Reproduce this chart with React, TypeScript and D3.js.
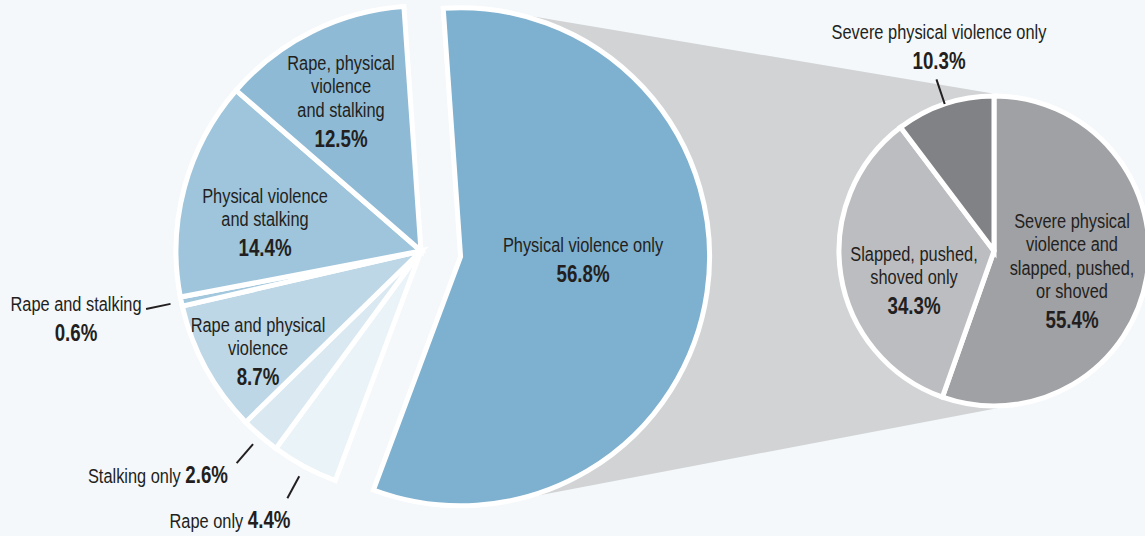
import React from "react";
import * as d3 from "d3";

const W = 1145;
const H = 536;
const BG = "#f4f8fb";
const INK = "#231f20";
const FONT = "'Liberation Sans', Arial, sans-serif";
// no narrow face installed: squeeze the regular one horizontally
const NARROW = 0.78;

// main pie (clockwise from the exploded slice)
const mainCategories = [
  "Physical violence only",
  "Rape only",
  "Stalking only",
  "Rape and physical violence",
  "Rape and stalking",
  "Physical violence and stalking",
  "Rape, physical violence and stalking",
];
const mainValues = [56.8, 4.4, 2.6, 8.7, 0.6, 14.4, 12.5];
const mainColors = [
  "#7eb0cf",
  "#eaf3f8",
  "#d9e8f1",
  "#bdd7e7",
  "#a3c8de",
  "#9ec5dc",
  "#8ebad5",
];

// breakdown of "Physical violence only"
const subCategories = [
  "Severe physical violence and slapped, pushed, or shoved",
  "Slapped, pushed, shoved only",
  "Severe physical violence only",
];
const subValues = [55.4, 34.3, 10.3];
const subColors = ["#a0a1a5", "#bcbdc0", "#808285"];

type Label = {
  lines?: string[];
  inline?: string;
  pct: string;
  x: number;
  y: number;
  anchor?: "start" | "middle" | "end";
  leader?: boolean;
};

// label layout, same order as the data
const mainLabels: Label[] = [
  { lines: ["Physical violence only"], pct: "56.8%", x: 583, y: 252 },
  { inline: "Rape only ", pct: "4.4%", x: 230, y: 528, leader: true },
  { inline: "Stalking only ", pct: "2.6%", x: 228, y: 483, anchor: "end", leader: true },
  { lines: ["Rape and physical", "violence"], pct: "8.7%", x: 258, y: 332 },
  { lines: ["Rape and stalking"], pct: "0.6%", x: 76, y: 311, leader: true },
  { lines: ["Physical violence", "and stalking"], pct: "14.4%", x: 265, y: 203 },
  { lines: ["Rape, physical", "violence", "and stalking"], pct: "12.5%", x: 341, y: 70 },
];
const subLabels: Label[] = [
  {
    lines: ["Severe physical", "violence and", "slapped, pushed,", "or shoved"],
    pct: "55.4%",
    x: 1072,
    y: 228,
  },
  { lines: ["Slapped, pushed,", "shoved only"], pct: "34.3%", x: 914, y: 261 },
  { lines: ["Severe physical violence only"], pct: "10.3%", x: 939, y: 39, leader: true },
];

const MAIN_C: [number, number] = [421, 251];
const R_MAIN = 245;
const R_EXPLODED = 249;
const EXPLODE = 40;
const SUB_C: [number, number] = [994, 251];
const R_SUB = 155;
const LINE_H = 23.5;
const PCT_GAP = 30;

const deg = Math.PI / 180;

function polar(c: [number, number], r: number, a: number): [number, number] {
  return [c[0] + r * Math.sin(a), c[1] - r * Math.cos(a)];
}

function outerTangents(
  c1: [number, number],
  r1: number,
  c2: [number, number],
  r2: number
) {
  const dx = c2[0] - c1[0];
  const dy = c2[1] - c1[1];
  const d = Math.hypot(dx, dy);
  const base = Math.atan2(dy, dx);
  const phi = Math.acos((r1 - r2) / d);
  return [base - phi, base + phi].map((a) => {
    const nx = Math.cos(a);
    const ny = Math.sin(a);
    return [
      [c1[0] + r1 * nx, c1[1] + r1 * ny],
      [c2[0] + r2 * nx, c2[1] + r2 * ny],
    ];
  });
}

function LabelText({ l }: { l: Label }) {
  const anchor = l.anchor ?? "middle";
  const tr = `translate(${l.x},${l.y}) scale(${NARROW},1)`;
  if (l.inline) {
    return (
      <g transform={tr}>
        <text textAnchor={anchor} fontSize={21} fill={INK}>
          <tspan>{l.inline}</tspan>
          <tspan fontWeight={700} fontSize={24}>
            {l.pct}
          </tspan>
        </text>
      </g>
    );
  }
  const lines = l.lines ?? [];
  return (
    <g transform={tr}>
      <text textAnchor={anchor} fontSize={21} fill={INK}>
        {lines.map((s, i) => (
          <tspan key={i} x={0} y={i * LINE_H}>
            {s}
          </tspan>
        ))}
        <tspan
          x={0}
          y={(lines.length - 1) * LINE_H + PCT_GAP}
          fontWeight={700}
          fontSize={24}
        >
          {l.pct}
        </tspan>
      </text>
    </g>
  );
}

export default function App() {
  const mainPie = d3
    .pie<number>()
    .sort(null)
    .startAngle(-4 * deg)
    .endAngle(356 * deg)(mainValues);

  const subPie = d3.pie<number>().sort(null)(subValues);

  const arcMain = d3.arc<d3.PieArcDatum<number>>().innerRadius(0).outerRadius(R_MAIN);
  const arcExploded = d3
    .arc<d3.PieArcDatum<number>>()
    .innerRadius(0)
    .outerRadius(R_EXPLODED);
  const arcSub = d3.arc<d3.PieArcDatum<number>>().innerRadius(0).outerRadius(R_SUB);

  const ex = mainPie[0];
  const exMid = (ex.startAngle + ex.endAngle) / 2;
  const exC = polar(MAIN_C, EXPLODE, exMid);

  const [top, bot] = outerTangents(exC, R_EXPLODED, SUB_C, R_SUB);
  const connector = [top[0], top[1], bot[1], bot[0]]
    .map((p) => p.join(","))
    .join(" ");

  return (
    <svg
      width={W}
      height={H}
      style={{ position: "absolute", left: 0, top: 0, display: "block" }}
      fontFamily={FONT}
    >
      <rect width={W} height={H} fill={BG} />
      <polygon points={connector} fill="#d1d3d4" />

      <g transform={`translate(${MAIN_C[0]},${MAIN_C[1]})`}>
        {mainPie.slice(1).map((d, i) => (
          <path
            key={mainCategories[i + 1]}
            d={arcMain(d) ?? ""}
            fill={mainColors[i + 1]}
            stroke="#fff"
            strokeWidth={5}
          />
        ))}
      </g>
      <g transform={`translate(${exC[0]},${exC[1]})`}>
        <path
          d={arcExploded(ex) ?? ""}
          fill={mainColors[0]}
          stroke="#fff"
          strokeWidth={5}
        />
      </g>

      <g transform={`translate(${SUB_C[0]},${SUB_C[1]})`}>
        {subPie.map((d, i) => (
          <path
            key={subCategories[i]}
            d={arcSub(d) ?? ""}
            fill={subColors[i]}
            stroke="#fff"
            strokeWidth={5}
          />
        ))}
      </g>

      {/* leader lines */}
      {mainPie.map((d, i) => {
        if (!mainLabels[i].leader) return null;
        const a = (d.startAngle + d.endAngle) / 2;
        const p0 = polar(MAIN_C, R_MAIN + 11, a);
        const p1 = polar(MAIN_C, R_MAIN + 36, a);
        return (
          <line
            key={`ml${i}`}
            x1={p0[0]}
            y1={p0[1]}
            x2={p1[0]}
            y2={p1[1]}
            stroke={INK}
            strokeWidth={2}
          />
        );
      })}
      {subPie.map((d, i) => {
        if (!subLabels[i].leader) return null;
        const a = (d.startAngle + d.endAngle) / 2;
        const p0 = polar(SUB_C, R_SUB, a);
        const p1 = polar(SUB_C, R_SUB + 26, a);
        return (
          <line
            key={`sl${i}`}
            x1={p0[0]}
            y1={p0[1]}
            x2={p1[0]}
            y2={p1[1]}
            stroke={INK}
            strokeWidth={2}
          />
        );
      })}

      {mainLabels.map((l, i) => (
        <LabelText key={`m${i}`} l={l} />
      ))}
      {subLabels.map((l, i) => (
        <LabelText key={`s${i}`} l={l} />
      ))}
    </svg>
  );
}
